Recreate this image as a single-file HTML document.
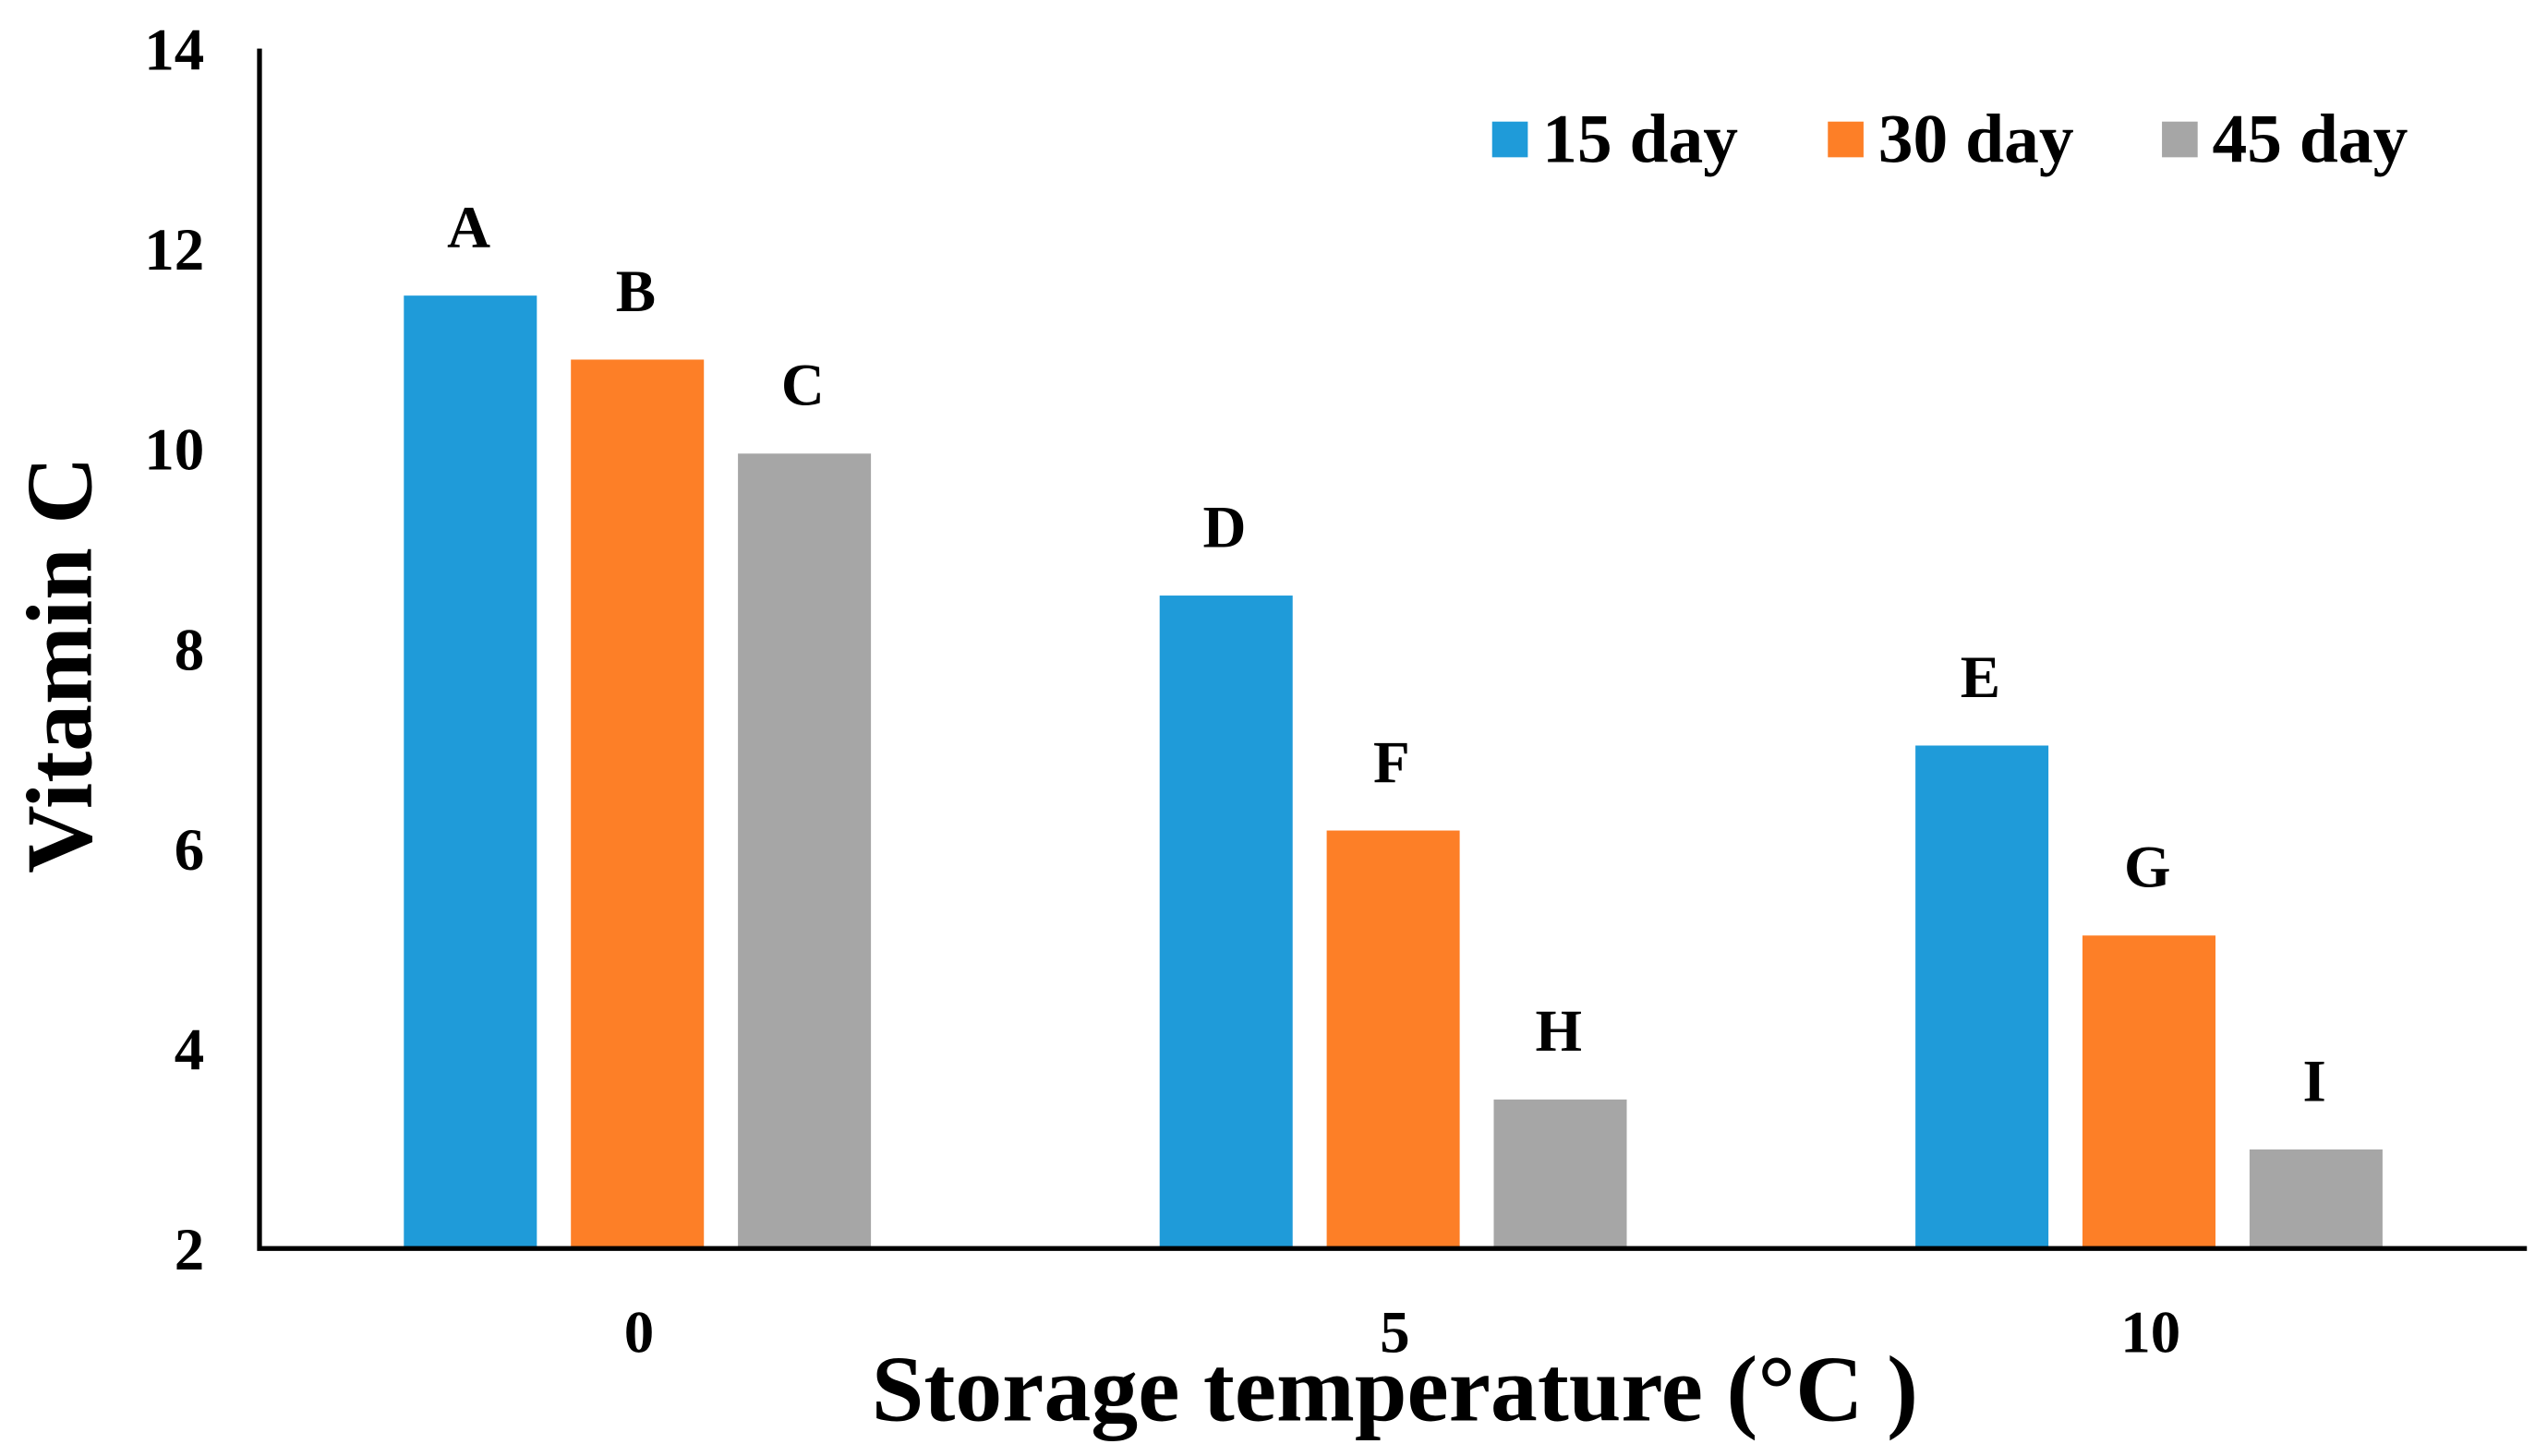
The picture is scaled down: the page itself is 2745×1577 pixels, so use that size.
<!DOCTYPE html>
<html><head><meta charset="utf-8"><style>
html,body{margin:0;padding:0;background:#fff;}
svg{display:block;}
text{font-family:"Liberation Serif",serif;font-weight:bold;fill:#000;}
</style></head><body>
<svg id="chart" width="2745" height="1577" viewBox="0 0 1563 898" preserveAspectRatio="none" xmlns="http://www.w3.org/2000/svg">
<g id="plot"></g>
</svg>
<script>
const categories = ["0", "5", "10"];
const series15 = [11.53, 8.53, 7.03];
const series30 = [10.89, 6.18, 5.13];
const series45 = [9.95, 3.49, 2.99];
const letters15 = ["A", "D", "E"];
const letters30 = ["B", "F", "G"];
const letters45 = ["C", "H", "I"];
const yTicks = [2, 4, 6, 8, 10, 12, 14];
const seriesNames = ["15 day", "30 day", "45 day"];

const NS = "http://www.w3.org/2000/svg";
const g = document.getElementById("plot");
const X0 = 160, X1 = 1558, Y0 = 770, Y1 = 30, YMIN = 2, YMAX = 14;
function yScale(v){ return Y0 - (v - YMIN) / (YMAX - YMIN) * (Y0 - Y1); }
const band = (X1 - X0) / categories.length;
function xCenter(i){ return X0 + band * (i + 0.5); }
function mk(tag, attrs, text){
  const e = document.createElementNS(NS, tag);
  for (const k in attrs) e.setAttribute(k, attrs[k]);
  if (text !== undefined) e.textContent = text;
  g.appendChild(e);
  return e;
}
const colors = ["#1f9bd9", "#fd7f27", "#a6a6a6"];
const allSeries = [series15, series30, series45];
const allLetters = [letters15, letters30, letters45];
const barW = 82, step = 103;
allSeries.forEach((s, si) => {
  s.forEach((v, i) => {
    const cx = xCenter(i) + (si - 1) * step;
    const top = yScale(v);
    const r = mk("rect", {x: cx - barW/2, y: top, width: barW, height: Y0 - top, fill: colors[si]});
    
    
    const t = mk("text", {x: cx - 1, y: top - 30, "text-anchor": "middle", "font-size": 37}, allLetters[si][i]);
    
    
  });
});
const ax = mk("path", {d: `M${X0},${Y1} L${X0},${Y0} L${X1},${Y0}`, stroke: "#000", "stroke-width": 3, fill: "none"});


yTicks.forEach(v => {
  const t = mk("text", {x: 126, y: yScale(v) + 13, "text-anchor": "end", "font-size": 37}, String(v));
  
  
});
categories.forEach((c, i) => {
  const t = mk("text", {x: xCenter(i) + 1, y: 834, "text-anchor": "middle", "font-size": 37}, c);
  
  
});
const yt = mk("text", {x: 0, y: 0, transform: "translate(56,410) rotate(-90)", "text-anchor": "middle", "font-size": 58}, "Vitamin C");


const xt = mk("text", {x: 860, y: 876, "text-anchor": "middle", "font-size": 58}, "Storage temperature (°C )");


const legX = [920, 1127, 1333];
seriesNames.forEach((n, i) => {
  const r = mk("rect", {x: legX[i], y: 75, width: 22, height: 22, fill: colors[i]});
  
  
  const t = mk("text", {x: legX[i] + 31, y: 100, "font-size": 43}, n);
  
  
});
</script>
</body></html>
